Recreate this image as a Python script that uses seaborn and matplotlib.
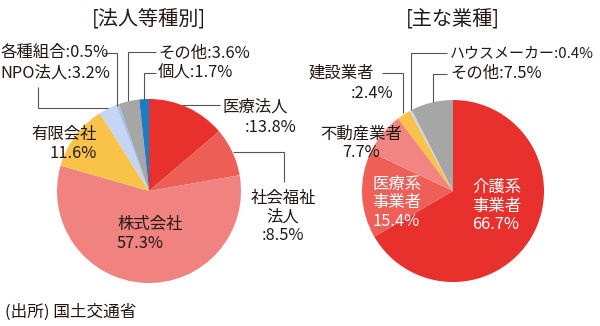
import matplotlib
matplotlib.use("Agg")
import matplotlib.pyplot as plt
import seaborn as sns

# ---- data ----
left_title = "[法人等種別]"
left_labels = ["医療法人", "社会福祉法人", "株式会社", "有限会社", "NPO法人", "各種組合", "その他", "個人"]
left_values = [13.8, 8.5, 57.3, 11.6, 3.2, 0.5, 3.6, 1.7]
left_colors = ["#e8312c", "#ec5e56", "#f0837f", "#f9c34a", "#c5d6f5", "#a3bfee", "#a6a6a6", "#1b7dc4"]

right_title = "[主な業種]"
right_labels = ["介護系事業者", "医療系事業者", "不動産業者", "建設業者", "ハウスメーカー", "その他"]
right_values = [66.7, 15.4, 7.7, 2.4, 0.4, 7.5]
right_colors = ["#e8312c", "#ee5f57", "#f08581", "#f9c34a", "#c5d6f5", "#a6a6a6"]

source = "(出所) 国土交通省"

sns.set_theme(style="white")
plt.rcParams["font.family"] = ["Noto Sans CJK JP", "DejaVu Sans"]

TXT = "#231815"
LINE = "#555555"
FS = 11.8
LS = 1.12

fig = plt.figure(figsize=(6, 3.26), dpi=100)
ax = fig.add_axes([0, 0, 1, 1])

pal_l = sns.color_palette(left_colors)
pal_r = sns.color_palette(right_colors)

ax.pie(left_values, colors=pal_l, center=(149, 191), radius=92,
       startangle=-90, counterclock=True, wedgeprops=dict(linewidth=0))
ax.pie(right_values, colors=pal_r, center=(453, 191), radius=91,
       startangle=-90, counterclock=True, wedgeprops=dict(linewidth=0))

ax.set_xlim(0, 600)
ax.set_ylim(326, 0)
ax.set_aspect("equal")
ax.axis("off")


def pct(v):
    return f"{v}%"


def line(xs, ys):
    ax.plot(xs, ys, color=LINE, lw=0.8, solid_capstyle="butt", solid_joinstyle="miter")


# titles
ax.text(149, 20, left_title, fontsize=14.5, ha="center", va="center", color=TXT)
ax.text(453, 20, right_title, fontsize=14.5, ha="center", va="center", color=TXT)

# ---- left pie labels ----
L = dict(zip(left_labels, left_values))
ax.text(222, 107, left_labels[0], fontsize=FS, ha="left", va="center", color=TXT)
ax.text(297, 127, ":" + pct(L["医療法人"]), fontsize=FS, ha="right", va="center", color=TXT)
line([182, 220], [105, 105])

ax.text(283, 217, "社会福祉\n法人\n:" + pct(L["社会福祉法人"]), fontsize=FS, ha="center",
        va="center", color=TXT, linespacing=LS)
line([233, 284, 284], [152, 152, 182])

ax.text(117, 234, "株式会社\n" + pct(L["株式会社"]), fontsize=FS, ha="left", va="center",
        color=TXT, linespacing=LS)

ax.text(97, 144, "有限会社\n" + pct(L["有限会社"]), fontsize=FS, ha="right", va="center",
        color=TXT, linespacing=LS)

ax.text(0, 53, "各種組合:" + pct(L["各種組合"]), fontsize=FS, ha="left", va="center", color=TXT)
ax.text(0, 73, "NPO法人:" + pct(L["NPO法人"]), fontsize=FS, ha="left", va="center", color=TXT)
line([104, 117, 117], [53, 53, 106])
line([38, 38, 108], [87, 108, 108])

ax.text(158, 53, "その他:" + pct(L["その他"]), fontsize=FS, ha="left", va="center", color=TXT)
ax.text(158, 73, "個人:" + pct(L["個人"]), fontsize=FS, ha="left", va="center", color=TXT)
line([156, 128, 128], [52, 52, 101])
line([156, 144, 144], [73, 73, 100])

# ---- right pie labels ----
R = dict(zip(right_labels, right_values))
ax.text(472, 206, "介護系\n事業者\n" + pct(R["介護系事業者"]), fontsize=FS, ha="left",
        va="center", color="white", linespacing=LS)
ax.text(372, 203, "医療系\n事業者\n" + pct(R["医療系事業者"]), fontsize=FS, ha="left",
        va="center", color="white", linespacing=LS)
ax.text(361, 143, "不動産業者\n" + pct(R["不動産業者"]), fontsize=FS, ha="center",
        va="center", color=TXT, linespacing=LS)

ax.text(308, 73, "建設業者", fontsize=FS, ha="left", va="center", color=TXT)
ax.text(393, 94, ":" + pct(R["建設業者"]), fontsize=FS, ha="right", va="center", color=TXT)
line([382, 403, 403], [73, 73, 113])

ax.text(450, 53, "ハウスメーカー:" + pct(R["ハウスメーカー"]), fontsize=10.8, ha="left",
        va="center", color=TXT)
ax.text(450, 73, "その他:" + pct(R["その他"]), fontsize=FS, ha="left", va="center", color=TXT)
line([447, 411, 411], [53, 53, 110])
line([447, 433, 433], [74, 74, 102])

# source
ax.text(5, 312, source, fontsize=12, ha="left", va="center", color=TXT)

fig.savefig("out.png", dpi=100)
